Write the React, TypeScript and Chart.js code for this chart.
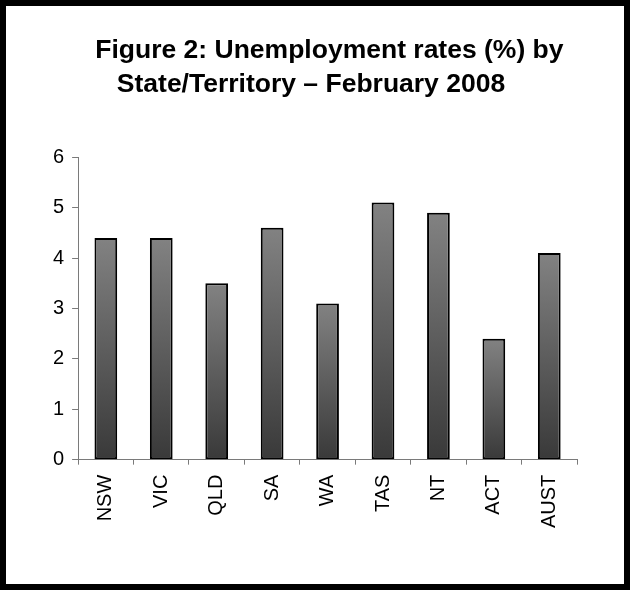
import React, { useEffect, useRef } from "react";
import { Chart, registerables } from "chart.js";

Chart.register(...registerables);

const categories = ["NSW", "VIC", "QLD", "SA", "WA", "TAS", "NT", "ACT", "AUST"];
const rates = [4.4, 4.4, 3.5, 4.6, 3.1, 5.1, 4.9, 2.4, 4.1];
const titleLines = ["     Figure 2: Unemployment rates (%) by", "State/Territory – February 2008"];
const yMin = 0;
const yMax = 6;
const yStep = 1;

const FONT = "'Liberation Sans', Arial, Helvetica, sans-serif";

export default function App() {
  const canvasRef = useRef<HTMLCanvasElement | null>(null);

  useEffect(() => {
    const canvas = canvasRef.current;
    if (!canvas) return;
    const chart = new Chart(canvas, {
      type: "bar",
      data: {
        labels: categories,
        datasets: [
          {
            label: "Unemployment rate (%)",
            data: rates,
            backgroundColor: (ctx: any) => {
              const c = ctx.chart;
              const area = c.chartArea;
              if (!area || ctx.type !== "data" || !c.scales.y) return "#606060";
              const ys = c.scales.y;
              const top = ys.getPixelForValue(ctx.raw as number);
              const bottom = ys.getPixelForValue(0);
              if (!isFinite(top) || !isFinite(bottom) || top === bottom) return "#606060";
              const g = c.ctx.createLinearGradient(0, top, 0, bottom);
              g.addColorStop(0, "#828282");
              g.addColorStop(1, "#393939");
              return g;
            },
            borderColor: "#000000",
            borderWidth: 2,
            borderSkipped: false,
            barPercentage: 0.41,
            categoryPercentage: 1,
          },
        ],
      },
      options: {
        responsive: true,
        maintainAspectRatio: false,
        animation: false,
        layout: {
          padding: { top: 0, left: 39, right: 47, bottom: 46 },
        },
        plugins: {
          legend: { display: false },
          tooltip: { enabled: false },
          title: {
            display: true,
            text: titleLines,
            color: "#000000",
            font: { family: FONT, size: 26.5, weight: "bold", lineHeight: 1.25 },
            padding: { top: 28.5, bottom: 56.5 },
          },
        },
        scales: {
          x: {
            grid: {
              display: true,
              drawOnChartArea: false,
              drawTicks: true,
              tickLength: 5,
              color: "#7a7a7a",
              lineWidth: 1,
            },
            border: { display: true, color: "#7a7a7a", width: 1 },
            ticks: {
              color: "#000000",
              font: { family: FONT, size: 20 },
              minRotation: 90,
              maxRotation: 90,
              autoSkip: false,
              padding: 10,
            },
          },
          y: {
            min: yMin,
            max: yMax,
            grid: {
              display: true,
              drawOnChartArea: false,
              drawTicks: true,
              tickLength: 6,
              color: "#7a7a7a",
              lineWidth: 1,
            },
            border: { display: true, color: "#7a7a7a", width: 1 },
            ticks: {
              stepSize: yStep,
              color: "#000000",
              font: { family: FONT, size: 20 },
              padding: 8,
            },
          },
        },
      },
    });
    return () => chart.destroy();
  }, []);

  return (
    <div
      style={{
        position: "absolute",
        left: 0,
        top: 0,
        width: 630,
        height: 590,
        boxSizing: "border-box",
        border: "6px solid #000",
        background: "#fff",
      }}
    >
      <div style={{ position: "relative", width: 618, height: 578 }}>
        <canvas ref={canvasRef} />
      </div>
    </div>
  );
}
